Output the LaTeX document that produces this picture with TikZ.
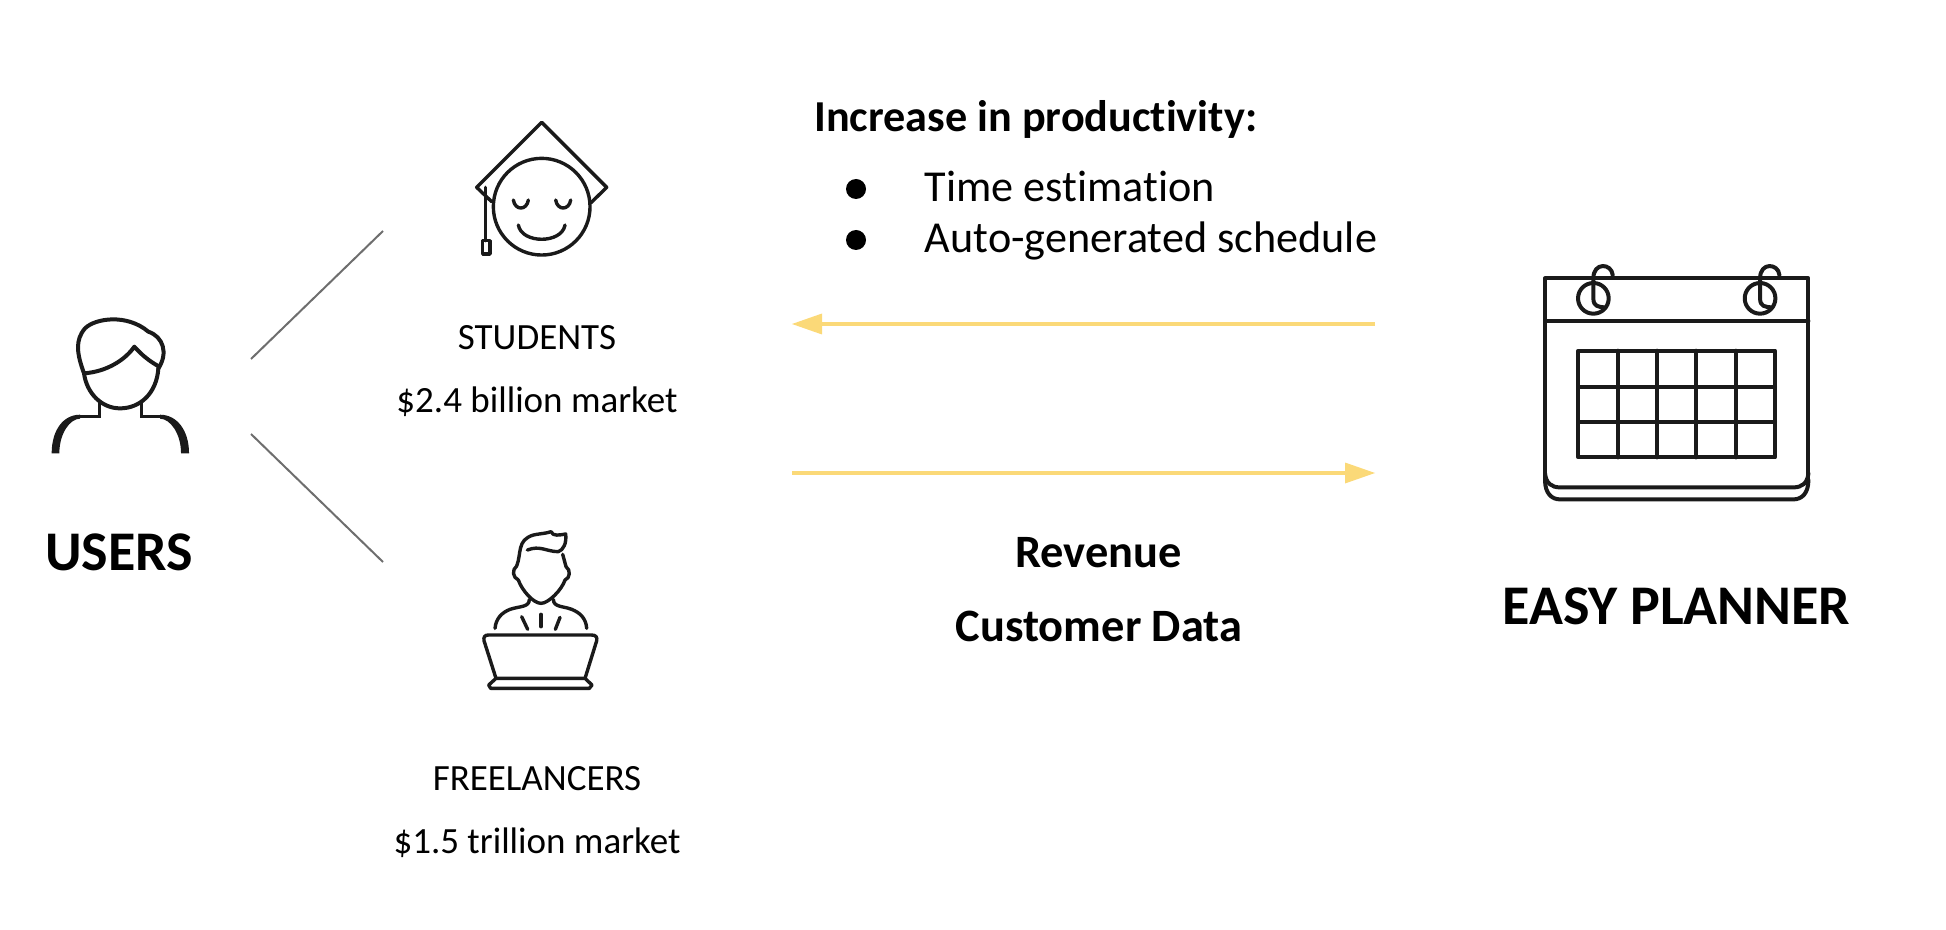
\documentclass[tikz,border=0pt]{standalone}
\usepackage{fontspec}
\setmainfont[RawFeature={-liga}]{Carlito}
\usetikzlibrary{arrows.meta}
\definecolor{ink}{HTML}{1A1A1A}
\definecolor{gold}{HTML}{FBD978}
\definecolor{rule}{HTML}{6E6E6E}
\tikzset{
  sizetext/.style={inner sep=0pt,font=\fontsize{18.5}{22}\selectfont,text=black},
  heading/.style={inner sep=0pt,font=\fontsize{22.1}{26}\selectfont\bfseries,text=black},
  subhead/.style={inner sep=0pt,font=\fontsize{23.2}{27}\selectfont\bfseries,text=black},
  bigbold/.style={inner sep=0pt,font=\fontsize{28}{32}\selectfont\bfseries,text=black},
  listtext/.style={inner sep=0pt,font=\fontsize{22.1}{26}\selectfont,text=black},
  icon/.style={draw=ink,line width=1.7pt,line join=round,line cap=round},
  heavyicon/.style={draw=ink,line width=2pt,line join=round,line cap=round},
  neckline/.style={draw=ink,line width=1.5pt,line join=miter},
  dotmark/.style={fill=black,circle,minimum size=10pt,inner sep=0pt},
  thinrule/.style={draw=rule,line width=1pt},
  flow/.style={draw=gold,line width=2pt,-{Triangle[length=15pt,width=10.5pt,fill=gold,line width=0pt]}},
}
\begin{document}
\begin{tikzpicture}[x=0.5pt,y=-0.5pt]
\useasboundingbox (0,0) rectangle (1946,930);
% text
\node[bigbold] (users) at (119,552) {USERS};
\node[bigbold] (easy) at (1676.5,606) {EASY PLANNER};
\node[sizetext] (stud) at (537,338) {STUDENTS};
\node[sizetext] (studm) at (537,401.5) {\$2.4 billion market};
\node[sizetext] (free) at (537,779) {FREELANCERS};
\node[sizetext] (freem) at (537,842.5) {\$1.5 trillion market};
\node[heading,anchor=base west] (inc) at (814,132) {Increase in productivity:};
\node[listtext,anchor=base west] (time) at (924.5,202) {Time estimation};
\node[listtext,anchor=base west] (auto) at (924.5,253) {Auto-generated schedule};
\node[subhead] (rev) at (1098.5,553) {Revenue};
\node[subhead] (cust) at (1099,626) {Customer Data};
\node[dotmark] (b1) at (856,189) {};
\node[dotmark] (b2) at (856,240) {};
% connectors
\coordinate (s1) at (251,359); \coordinate (s2) at (383,231);
\coordinate (f1) at (251,434); \coordinate (f2) at (383,562);
\draw[thinrule] (s1) -- (s2);
\draw[thinrule] (f1) -- (f2);
\coordinate (a1) at (1375,324); \coordinate (a2) at (792,324);
\coordinate (c1) at (792,473); \coordinate (c2) at (1375,473);
\draw[flow] (a1) -- (a2);
\draw[flow] (c1) -- (c2);
% user icon
\begin{scope}[shift={(30,290)},x=0.1667pt,y=-0.1667pt]
\draw[heavyicon] (162,250) .. controls (140,190) and (135,150) .. (165,115) .. controls (195,85) and (290,70) .. (355,125) .. controls (400,140) and (415,190) .. (385,235);
\draw[heavyicon] (162,250) .. controls (230,245) and (285,210) .. (313,170) .. controls (335,195) and (360,215) .. (388,230);
\draw[heavyicon] (162,250) .. controls (170,310) and (215,355) .. (270,355) .. controls (330,355) and (380,310) .. (385,235);
\draw[neckline] (207,340) -- (207,380) -- (150,380);
\draw[neckline] (333,340) -- (333,380) -- (390,380);
\fill[ink] (150,374) .. controls (100,374) and (65,420) .. (65,490) -- (88,490) .. controls (88,430) and (120,386) .. (150,386) -- cycle;
\fill[ink] (390,374) .. controls (440,374) and (477,420) .. (477,490) -- (453,490) .. controls (453,430) and (420,386) .. (390,386) -- cycle;
\end{scope}
% graduate icon
\begin{scope}[shift={(460,110)},x=0.1667pt,y=-0.1667pt]
\draw[icon] (95,275) -- (50,232) -- (245,37) -- (440,232) -- (393,278);
\draw[icon] (245,290) circle[radius=145];
\draw[icon] (77,232) -- (77,392);
\draw[icon] (68,392) rectangle (90,432);
\draw[icon] (160,270) .. controls (165,302) and (200,302) .. (205,270);
\draw[icon] (287,270) .. controls (292,302) and (327,302) .. (332,270);
\draw[icon] (175,345) .. controls (185,402) and (305,402) .. (315,345);
\end{scope}
% freelancer icon
\begin{scope}[shift={(470,520)},x=0.1667pt,y=-0.1667pt]
\draw[icon] (140,138) .. controls (155,100) and (140,60) .. (190,45) .. controls (215,40) and (230,40) .. (243,35) .. controls (248,50) and (270,45) .. (287,42) .. controls (290,70) and (280,90) .. (265,95) .. controls (230,95) and (210,75) .. (172,90);
\draw[icon] (278,103) -- (288,140);
\draw[icon] (140,138) .. controls (125,150) and (128,172) .. (145,180);
\draw[icon] (288,140) .. controls (303,150) and (300,175) .. (285,180);
\draw[icon] (145,180) .. controls (155,210) and (190,250) .. (213,250) .. controls (235,250) and (275,210) .. (285,180);
\draw[icon] (178,238) .. controls (178,262) and (150,258) .. (120,268) .. controls (95,278) and (78,295) .. (75,325);
\draw[icon] (250,238) .. controls (250,262) and (280,258) .. (305,268) .. controls (330,278) and (348,295) .. (350,325);
\draw[icon] (155,290) -- (173,328);
\draw[icon] (213,283) -- (213,320);
\draw[icon] (270,292) -- (256,328);
\draw[icon] (78,475) -- (42,362) .. controls (40,350) and (45,345) .. (55,345) -- (365,345) .. controls (378,345) and (382,352) .. (380,362) -- (345,475);
\draw[icon] (78,475) -- (345,475) -- (366,495) -- (358,505) -- (62,505) -- (56,495) -- cycle;
\end{scope}
% calendar icon
\begin{scope}[shift={(1530,250)},x=0.1667pt,y=-0.1667pt]
\draw[heavyicon] (45,690) -- (45,85) -- (835,85) -- (835,690);
\draw[heavyicon] (45,213) -- (835,213);
\draw[heavyicon] (45,670) .. controls (48,700) and (65,712) .. (90,712) -- (790,712) .. controls (815,712) and (832,700) .. (835,670);
\draw[heavyicon] (45,690) .. controls (45,730) and (65,748) .. (90,748) -- (790,748) .. controls (815,748) and (835,730) .. (835,690);
\draw[heavyicon] (145,302) rectangle (735,622);
\foreach \gx in {263,381,499,617} \draw[heavyicon] (\gx,302) -- (\gx,622);
\foreach \gy in {410,516} \draw[heavyicon] (145,\gy) -- (735,\gy);
\foreach \rx in {0,500} {
  \draw[heavyicon] (190+\rx,145) circle[radius=46];
  \draw[heavyicon] (248+\rx,75) .. controls (245+\rx,40) and (190+\rx,35) .. (190+\rx,85) -- (190+\rx,145) .. controls (190+\rx,170) and (205+\rx,170) .. (222+\rx,172);
}
\end{scope}
\end{tikzpicture}
\end{document}
